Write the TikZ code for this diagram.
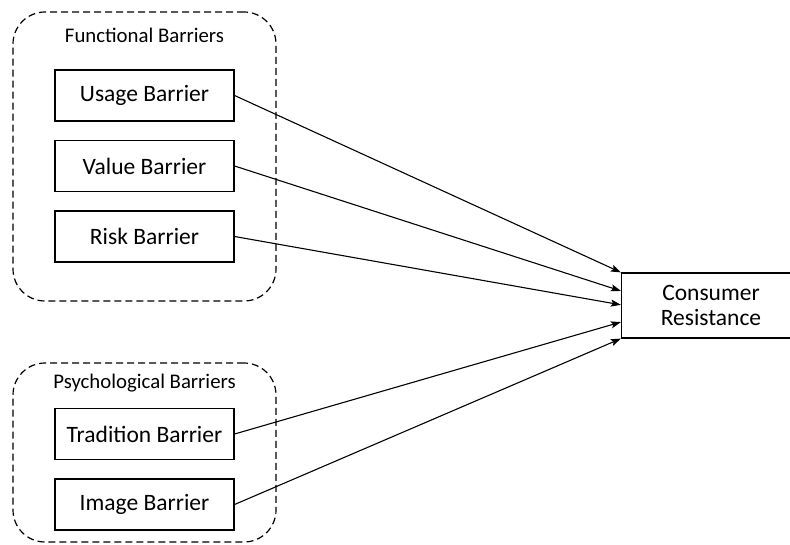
\documentclass[tikz,border=0pt]{standalone}
\usepackage{fontspec}
\setmainfont{Carlito}
\usepackage{tikz}
\usetikzlibrary{positioning,arrows.meta,calc}

\begin{document}
\begin{tikzpicture}[line width=1.2pt]
    \tikzstyle{barrier}=[draw, minimum width=179pt, minimum height=51pt, inner sep=0pt, font=\fontsize{23.5}{25}\selectfont, node distance=70.5pt, on grid]
    \tikzstyle{group}=[draw, dash pattern=on 7pt off 4pt, rounded corners=32pt, minimum width=263pt, inner sep=0pt]
    \tikzstyle{grouptitle}=[font=\fontsize{20.8}{22}\selectfont, inner sep=0pt]
    \tikzstyle{arrow}=[line width=1.1pt,-{Stealth[length=10pt,width=7pt,inset=2pt]}]
    \useasboundingbox (0,0) rectangle (790pt,-545pt);

    % the two groups
    \node[group, minimum height=289pt] (functional) at (144.5pt,-156.5pt) {};
    \node[group, minimum height=179pt] (psychological) at (144.5pt,-452.5pt) {};
    \node[grouptitle] (ftitle) at (144.5pt,-35pt) {Functional Barriers};
    \node[grouptitle] (ptitle) at (144.5pt,-383pt) {Psychological Barriers};

    \node[barrier] (usage) at (144.5pt,-95.5pt) {Usage Barrier};
    \node[barrier,below=of usage] (value) {Value Barrier};
    \node[barrier,below=of value] (risk) {Risk Barrier};
    \node[barrier] (tradition) at (144.5pt,-434pt) {Tradition Barrier};
    \node[barrier,below=of tradition] (image) {Image Barrier};
    \node[barrier, minimum height=65pt, align=center] (consumer) at (711pt,-305.5pt) {Consumer\\Resistance};

    \draw[arrow] (usage.east) -- ($(consumer.north west)!0!(consumer.south west)$);
    \draw[arrow] (value.east) -- ($(consumer.north west)!0.28!(consumer.south west)$);
    \draw[arrow] (risk.east) -- ($(consumer.north west)!0.49!(consumer.south west)$);
    \draw[arrow] (tradition.east) -- ($(consumer.north west)!0.75!(consumer.south west)$);
    \draw[arrow] (image.east) -- ($(consumer.north west)!1!(consumer.south west)$);
\end{tikzpicture}
\end{document}
